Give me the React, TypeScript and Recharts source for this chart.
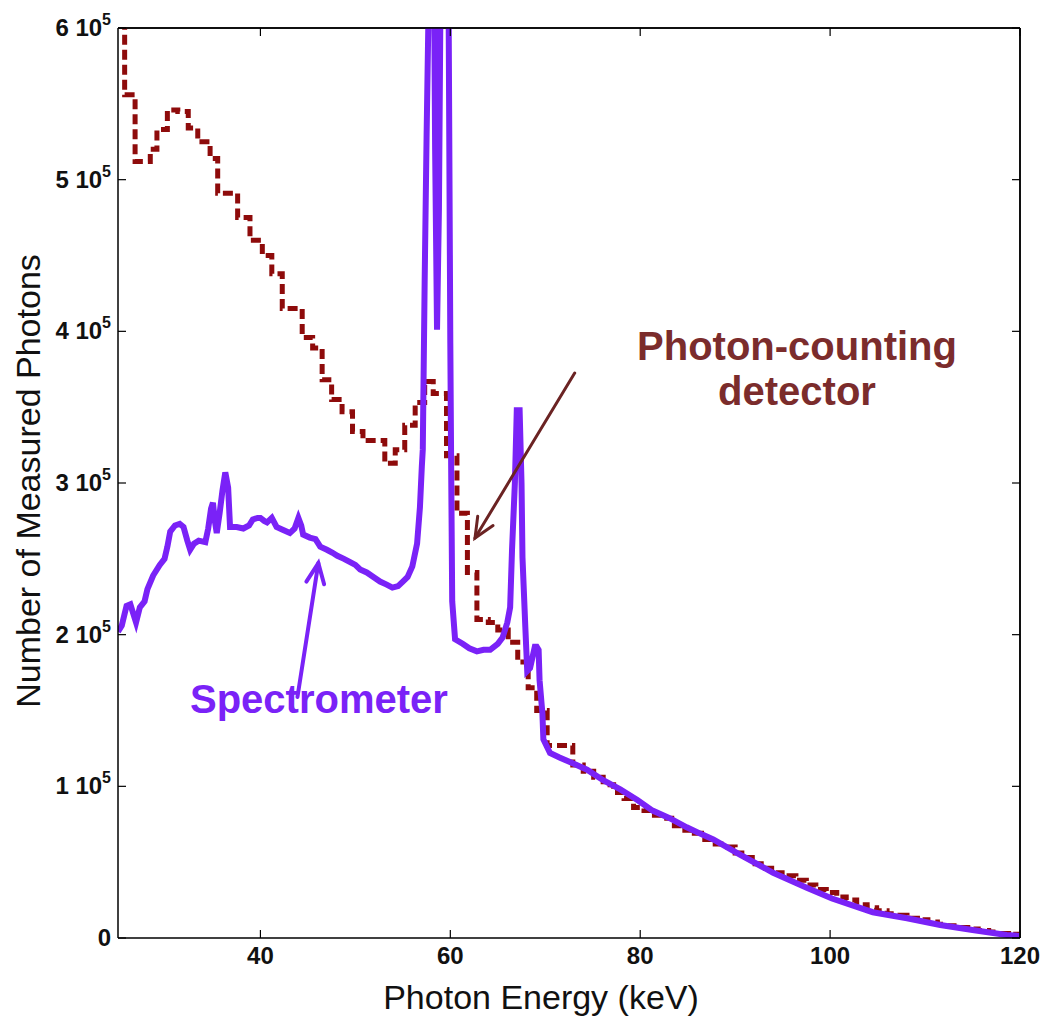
import { LineChart, Line, XAxis, YAxis, ReferenceLine } from 'recharts'

const FONT = '"Liberation Sans", Arial, Helvetica, sans-serif'
const PURPLE = '#7a22f7'
const DARK_RED = '#8e0b0b'
const NOTE_RED = '#7b2c2c'

// spectrometer (fine resolution)
const specEnergy = [
  25.0, 25.4, 25.9, 26.3, 26.6, 26.9, 27.3, 27.8, 28.1, 28.7, 29.4, 29.9, 30.2, 30.5, 31.0, 31.5,
  31.9, 32.3, 32.6, 33.0, 33.5, 34.2, 34.5, 34.8, 35.0, 35.2, 35.4, 35.7, 36.0, 36.3, 36.6, 36.8,
  37.5, 38.2, 38.8, 39.2, 39.7, 40.0, 40.4, 40.7, 41.2, 41.7, 42.4, 43.1, 43.6, 44.0, 44.3, 44.5,
  45.2, 45.8, 46.3, 47.0, 47.6, 48.1, 48.8, 49.4, 50.0, 50.5, 51.2, 51.9, 52.6, 53.3, 53.9, 54.5,
  55.0, 55.5, 56.0, 56.5, 56.8, 57.0, 57.1, 57.3, 57.5, 57.8, 58.2, 58.4, 58.6, 58.8, 59.0, 59.4,
  59.8, 60.0, 60.1, 60.2, 60.5, 61.3, 62.0, 62.8, 63.5, 64.2, 65.0, 65.5, 66.0, 66.3, 66.5, 66.8,
  67.0, 67.3, 67.5, 67.6, 67.9, 68.1, 68.4, 68.9, 69.1, 69.3, 69.4, 69.7, 69.8, 70.5, 71.5, 72.6,
  74.4, 76.1, 77.9, 79.7, 81.3, 83.1, 84.9, 86.6, 87.7, 90.5, 94.0, 97.6, 100.2, 104.5, 108.1,
  111.6, 115.0, 118.6, 120.0,
]
const specCounts = [
  202000, 206000, 219000, 220000, 214000, 208000, 218000, 222000, 230000, 239000, 246000, 250000,
  258000, 268000, 272000, 273000, 271000, 262000, 256000, 260000, 262000, 261000, 270000, 283000,
  287000, 275000, 267000, 280000, 295000, 307000, 297000, 271000, 271000, 270000, 272000, 276000,
  277000, 277000, 275000, 274000, 277000, 271000, 269000, 267000, 270000, 277000, 272000, 266000,
  264000, 263000, 258000, 256000, 254000, 252000, 250000, 248000, 246000, 243000, 241000, 238000,
  235000, 233000, 231000, 232000, 235000, 238000, 245000, 260000, 284000, 311000, 322000, 434000,
  528000, 650000, 720000, 520000, 401000, 480000, 650000, 720000, 640000, 392000, 302000, 222000,
  197000, 194000, 191000, 189000, 190000, 190000, 194000, 198000, 208000, 218000, 256000, 300000,
  348000, 348000, 300000, 251000, 205000, 176000, 178000, 192000, 192000, 190000, 170000, 148000,
  131000, 122000, 119000, 116000, 111000, 104000, 98000, 91000, 84000, 79000, 73000, 68000, 65000,
  55000, 43000, 33000, 26000, 17000, 13000, 8600, 5300, 2000, 1300,
]

// photon-counting detector (energy bins, left edges)
const detEdges = [
  25.0, 25.7, 26.8, 28.4, 29.1, 30.2, 31.3, 32.4, 33.4, 34.7, 35.5, 37.6, 38.9, 40.2, 41.2, 42.3,
  44.4, 45.5, 46.5, 47.5, 48.6, 49.7, 50.8, 53.1, 54.2, 55.2, 56.3, 57.3, 58.2, 59.6, 60.7, 61.8,
  62.8, 64.0, 65.0, 66.1, 67.1, 68.2, 69.1, 70.2, 72.9, 74.0, 75.1, 76.1, 77.2, 78.3, 79.3, 80.4,
  81.5, 82.5, 83.6, 84.7, 85.7, 86.8, 87.9, 88.9, 90.0, 91.1, 92.1, 93.2, 94.3, 95.3, 96.4, 97.5,
  98.5, 99.6, 100.7, 101.7, 102.8, 103.9, 104.9, 106.0, 107.1, 108.1, 109.2, 110.3, 111.3, 112.4,
  113.5, 114.5, 115.6, 116.7, 117.7, 118.8, 119.9, 120.0,
]
const detCounts = [
  700000, 556000, 512000, 520000, 533000, 546000, 545000, 534000, 525000, 514000, 491000, 475000,
  460000, 450000, 438000, 415000, 396000, 389000, 368000, 355000, 347000, 334000, 328000, 313000,
  322000, 338000, 353000, 367000, 359000, 318000, 280000, 241000, 210000, 208000, 203000, 195000,
  182000, 165000, 150000, 127000, 114000, 110000, 106000, 101000, 96000, 92000, 86000, 84000,
  81000, 79000, 74000, 71000, 69000, 65000, 62000, 60000, 56000, 53000, 49000, 46000, 43000,
  41000, 38000, 35000, 32000, 30000, 27000, 25000, 22000, 20000, 18000, 16000, 15000, 13000,
  12000, 10500, 9000, 8000, 7000, 6000, 5000, 4000, 3000, 2500, 1500, 1500,
]

const xTicks = [40, 60, 80, 100, 120]
const yTicks = [0, 100000, 200000, 300000, 400000, 500000, 600000]

const specData = specEnergy.map((e, i) => ({ e, v: specCounts[i] }))
const detData = detEdges.map((e, i) => ({ e, v: detCounts[i] }))

function YTick({ x, y, payload }: any) {
  const v = payload.value
  return (
    <text x={x} y={y} dy={8} textAnchor="end" fontFamily={FONT} fontWeight="bold" fontSize={24} fill="#111">
      {v === 0 ? (
        '0'
      ) : (
        <>
          <tspan>{`${v / 100000} 10`}</tspan>
          <tspan dy={-11} fontSize={16}>5</tspan>
        </>
      )}
    </text>
  )
}

function XTick({ x, y, payload }: any) {
  return (
    <text x={x} y={y} dy={8} textAnchor="middle" fontFamily={FONT} fontWeight="bold" fontSize={24} fill="#111">
      {payload.value}
    </text>
  )
}

const NoTick = () => <g />

function Arrow({ x1, y1, x2, y2, stroke, strokeWidth }: any) {
  const ang = Math.atan2(y2 - y1, x2 - x1)
  const len = 22
  const spread = 0.42
  const a = [x2 - len * Math.cos(ang - spread), y2 - len * Math.sin(ang - spread)]
  const b = [x2 - len * Math.cos(ang + spread), y2 - len * Math.sin(ang + spread)]
  return (
    <g stroke={stroke} strokeWidth={strokeWidth} fill="none" strokeLinecap="round">
      <line x1={x1} y1={y1} x2={x2} y2={y2} />
      <polyline points={`${a[0]},${a[1]} ${x2},${y2} ${b[0]},${b[1]}`} />
    </g>
  )
}

const axisLine = { stroke: '#000', strokeWidth: 1.5 }
const tickLine = { stroke: '#000', strokeWidth: 1.2 }

export default function App() {
  return (
    <div style={{ position: 'absolute', left: 0, top: 0, width: 1050, height: 1021, background: '#fff' }}>
      <LineChart width={1050} height={1021} margin={{ top: 27, right: 29, left: 0, bottom: 0 }}>
        <XAxis
          dataKey="e"
          type="number"
          domain={[25, 120]}
          ticks={xTicks}
          interval={0}
          allowDataOverflow
          height={83}
          axisLine={axisLine}
          tickLine={tickLine}
          tickSize={-8}
          tickMargin={26}
          tick={XTick}
        />
        <XAxis
          xAxisId="top"
          dataKey="e"
          orientation="top"
          type="number"
          domain={[25, 120]}
          ticks={xTicks}
          interval={0}
          allowDataOverflow
          height={1}
          axisLine={axisLine}
          tickLine={tickLine}
          tickSize={-8}
          tick={NoTick}
        />
        <YAxis
          type="number"
          domain={[0, 600000]}
          ticks={yTicks}
          interval={0}
          allowDataOverflow
          width={118}
          axisLine={axisLine}
          tickLine={tickLine}
          tickSize={-8}
          tickMargin={15}
          tick={YTick}
        />
        <YAxis
          yAxisId="right"
          orientation="right"
          type="number"
          domain={[0, 600000]}
          ticks={yTicks}
          interval={0}
          allowDataOverflow
          width={1}
          axisLine={axisLine}
          tickLine={tickLine}
          tickSize={-8}
          tick={NoTick}
        />
        {/* invisible series so the mirrored box axes get drawn */}
        <Line
          data={specData}
          xAxisId="top"
          yAxisId="right"
          dataKey="v"
          stroke="none"
          dot={false}
          legendType="none"
          isAnimationActive={false}
        />
        {/* box edges */}
        <ReferenceLine y={600000} stroke="#000" strokeWidth={1.5} ifOverflow="visible" />
        <ReferenceLine x={120} stroke="#000" strokeWidth={1.5} ifOverflow="visible" />
        <Line
          data={detData}
          dataKey="v"
          type="stepAfter"
          stroke={DARK_RED}
          strokeWidth={5}
          strokeDasharray="10 5"
          dot={false}
          isAnimationActive={false}
        />
        <Line
          data={specData}
          dataKey="v"
          type="linear"
          stroke={PURPLE}
          strokeWidth={6}
          dot={false}
          isAnimationActive={false}
        />
        <ReferenceLine
          segment={[{ x: 73.1, y: 372500 }, { x: 62.6, y: 263700 }]}
          stroke="#6b2323"
          strokeWidth={3}
          shape={Arrow}
          ifOverflow="visible"
        />
        <ReferenceLine
          segment={[{ x: 43.9, y: 158900 }, { x: 46.1, y: 247200 }]}
          stroke={PURPLE}
          strokeWidth={4}
          shape={Arrow}
          ifOverflow="visible"
        />
      </LineChart>
      <svg
        width={1050}
        height={1021}
        style={{ position: 'absolute', left: 0, top: 0, pointerEvents: 'none' }}
      >
        <text x={797} y={360} textAnchor="middle" fontFamily={FONT} fontWeight="bold" fontSize={40} fill={NOTE_RED}>
          Photon-counting
        </text>
        <text x={797} y={405} textAnchor="middle" fontFamily={FONT} fontWeight="bold" fontSize={40} fill={NOTE_RED}>
          detector
        </text>
        <text x={190} y={713} fontFamily={FONT} fontWeight="bold" fontSize={40} fill={PURPLE}>
          Spectrometer
        </text>
        <text x={541} y={1009} textAnchor="middle" fontFamily={FONT} fontSize={34} fill="#111">
          Photon Energy (keV)
        </text>
        <text
          x={0}
          y={0}
          transform="translate(40 481) rotate(-90)"
          textAnchor="middle"
          fontFamily={FONT}
          fontSize={34}
          fill="#111"
        >
          Number of Measured Photons
        </text>
      </svg>
    </div>
  )
}
